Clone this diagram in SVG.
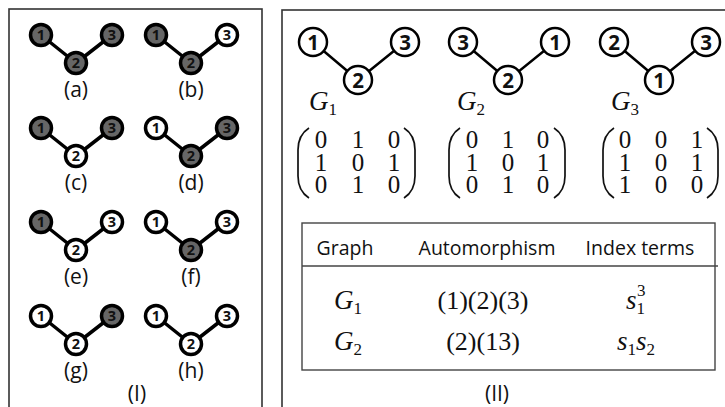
<svg xmlns="http://www.w3.org/2000/svg" width="725" height="407" viewBox="0 0 725 407">
<style>
.panel{fill:#fff;stroke:#333;stroke-width:1.6}
.e1{stroke:#000;stroke-width:3.5;stroke-linecap:round}
.e2{stroke:#000;stroke-width:2.5;stroke-linecap:round}
.ng{fill:#666;stroke:#000;stroke-width:3.5}
.nw{fill:#fff;stroke:#000;stroke-width:3.5}
.nb{fill:#fff;stroke:#000;stroke-width:2.5}
.t1{font-family:"Open Sans","Liberation Sans",sans-serif;font-weight:bold;font-size:14.5px;text-anchor:middle;fill:#111}
.t2{font-family:"Open Sans","Liberation Sans",sans-serif;font-weight:bold;font-size:20.5px;text-anchor:middle;fill:#111}
.lab{font-family:"Open Sans","Liberation Sans",sans-serif;font-size:21px;text-anchor:middle;fill:#111}
.m{font-family:"Liberation Serif","DejaVu Serif",serif;font-size:25px;text-anchor:middle;fill:#111}
.mi{font-family:"Liberation Serif","DejaVu Serif",serif;font-style:italic;font-size:27px;fill:#111}
.sub{font-size:17px;font-style:normal}
.par{fill:none;stroke:#111;stroke-width:1.7}
.hd{font-family:"Open Sans","Liberation Sans",sans-serif;font-size:19.5px;text-anchor:middle;fill:#111}
.tb{font-family:"Liberation Serif","DejaVu Serif",serif;font-size:26px;text-anchor:middle;fill:#111}
</style>
<rect class="panel" x="9" y="9" width="253" height="420"/>
<rect class="panel" x="282" y="10" width="460" height="420"/>

<!-- Panel I -->
<g id="graph-a">
 <g id="edges-a"><line class="e1" x1="41" y1="35" x2="76" y2="63"/><line class="e1" x1="76" y1="63" x2="112" y2="35"/></g>
 <g id="a-n1"><circle class="ng" cx="41" cy="35" r="10.5"/><text class="t1" x="41" y="40">1</text></g>
 <g id="a-n2"><circle class="ng" cx="76" cy="63" r="10.5"/><text class="t1" x="76" y="68">2</text></g>
 <g id="a-n3"><circle class="ng" cx="112" cy="35" r="10.5"/><text class="t1" x="112" y="40">3</text></g>
 <text class="lab" x="76" y="97">(a)</text>
</g>
<g id="graph-b">
 <g id="edges-b"><line class="e1" x1="156" y1="35" x2="191" y2="63"/><line class="e1" x1="191" y1="63" x2="227" y2="35"/></g>
 <g id="b-n1"><circle class="ng" cx="156" cy="35" r="10.5"/><text class="t1" x="156" y="40">1</text></g>
 <g id="b-n2"><circle class="ng" cx="191" cy="63" r="10.5"/><text class="t1" x="191" y="68">2</text></g>
 <g id="b-n3"><circle class="nw" cx="227" cy="35" r="10.5"/><text class="t1" x="227" y="40">3</text></g>
 <text class="lab" x="191" y="97">(b)</text>
</g>
<g id="graph-c">
 <g id="edges-c"><line class="e1" x1="41" y1="128" x2="76" y2="156"/><line class="e1" x1="76" y1="156" x2="112" y2="128"/></g>
 <g id="c-n1"><circle class="ng" cx="41" cy="128" r="10.5"/><text class="t1" x="41" y="133">1</text></g>
 <g id="c-n2"><circle class="nw" cx="76" cy="156" r="10.5"/><text class="t1" x="76" y="161">2</text></g>
 <g id="c-n3"><circle class="ng" cx="112" cy="128" r="10.5"/><text class="t1" x="112" y="133">3</text></g>
 <text class="lab" x="76" y="190">(c)</text>
</g>
<g id="graph-d">
 <g id="edges-d"><line class="e1" x1="156" y1="128" x2="191" y2="156"/><line class="e1" x1="191" y1="156" x2="227" y2="128"/></g>
 <g id="d-n1"><circle class="nw" cx="156" cy="128" r="10.5"/><text class="t1" x="156" y="133">1</text></g>
 <g id="d-n2"><circle class="ng" cx="191" cy="156" r="10.5"/><text class="t1" x="191" y="161">2</text></g>
 <g id="d-n3"><circle class="ng" cx="227" cy="128" r="10.5"/><text class="t1" x="227" y="133">3</text></g>
 <text class="lab" x="191" y="190">(d)</text>
</g>
<g id="graph-e">
 <g id="edges-e"><line class="e1" x1="41" y1="222" x2="76" y2="250"/><line class="e1" x1="76" y1="250" x2="112" y2="222"/></g>
 <g id="e-n1"><circle class="ng" cx="41" cy="222" r="10.5"/><text class="t1" x="41" y="227">1</text></g>
 <g id="e-n2"><circle class="nw" cx="76" cy="250" r="10.5"/><text class="t1" x="76" y="255">2</text></g>
 <g id="e-n3"><circle class="nw" cx="112" cy="222" r="10.5"/><text class="t1" x="112" y="227">3</text></g>
 <text class="lab" x="76" y="284">(e)</text>
</g>
<g id="graph-f">
 <g id="edges-f"><line class="e1" x1="156" y1="222" x2="191" y2="250"/><line class="e1" x1="191" y1="250" x2="227" y2="222"/></g>
 <g id="f-n1"><circle class="nw" cx="156" cy="222" r="10.5"/><text class="t1" x="156" y="227">1</text></g>
 <g id="f-n2"><circle class="ng" cx="191" cy="250" r="10.5"/><text class="t1" x="191" y="255">2</text></g>
 <g id="f-n3"><circle class="nw" cx="227" cy="222" r="10.5"/><text class="t1" x="227" y="227">3</text></g>
 <text class="lab" x="191" y="284">(f)</text>
</g>
<g id="graph-g">
 <g id="edges-g"><line class="e1" x1="41" y1="316" x2="76" y2="344"/><line class="e1" x1="76" y1="344" x2="112" y2="316"/></g>
 <g id="g-n1"><circle class="nw" cx="41" cy="316" r="10.5"/><text class="t1" x="41" y="321">1</text></g>
 <g id="g-n2"><circle class="nw" cx="76" cy="344" r="10.5"/><text class="t1" x="76" y="349">2</text></g>
 <g id="g-n3"><circle class="ng" cx="112" cy="316" r="10.5"/><text class="t1" x="112" y="321">3</text></g>
 <text class="lab" x="76" y="378">(g)</text>
</g>
<g id="graph-h">
 <g id="edges-h"><line class="e1" x1="156" y1="316" x2="191" y2="344"/><line class="e1" x1="191" y1="344" x2="227" y2="316"/></g>
 <g id="h-n1"><circle class="nw" cx="156" cy="316" r="10.5"/><text class="t1" x="156" y="321">1</text></g>
 <g id="h-n2"><circle class="nw" cx="191" cy="344" r="10.5"/><text class="t1" x="191" y="349">2</text></g>
 <g id="h-n3"><circle class="nw" cx="227" cy="316" r="10.5"/><text class="t1" x="227" y="321">3</text></g>
 <text class="lab" x="191" y="378">(h)</text>
</g>
<text class="lab" x="137" y="401">(I)</text>

<!-- Panel II graphs -->
<g id="G1">
 <g id="edges-G1"><line class="e2" x1="313" y1="42" x2="358" y2="80"/><line class="e2" x1="358" y1="80" x2="405" y2="42"/></g>
 <g id="G1-n1"><circle class="nb" cx="313" cy="42" r="14"/><text class="t2" x="313" y="49.5">1</text></g>
 <g id="G1-n2"><circle class="nb" cx="358" cy="80" r="14"/><text class="t2" x="358" y="87.5">2</text></g>
 <g id="G1-n3"><circle class="nb" cx="405" cy="42" r="14"/><text class="t2" x="405" y="49.5">3</text></g>
</g>
<g id="G2">
 <g id="edges-G2"><line class="e2" x1="463" y1="42" x2="508" y2="80"/><line class="e2" x1="508" y1="80" x2="555" y2="42"/></g>
 <g id="G2-n3"><circle class="nb" cx="463" cy="42" r="14"/><text class="t2" x="463" y="49.5">3</text></g>
 <g id="G2-n2"><circle class="nb" cx="508" cy="80" r="14"/><text class="t2" x="508" y="87.5">2</text></g>
 <g id="G2-n1"><circle class="nb" cx="555" cy="42" r="14"/><text class="t2" x="555" y="49.5">1</text></g>
</g>
<g id="G3">
 <g id="edges-G3"><line class="e2" x1="614" y1="42" x2="659" y2="80"/><line class="e2" x1="659" y1="80" x2="706" y2="42"/></g>
 <g id="G3-n2"><circle class="nb" cx="614" cy="42" r="14"/><text class="t2" x="614" y="49.5">2</text></g>
 <g id="G3-n1"><circle class="nb" cx="659" cy="80" r="14"/><text class="t2" x="659" y="87.5">1</text></g>
 <g id="G3-n3"><circle class="nb" cx="706" cy="42" r="14"/><text class="t2" x="706" y="49.5">3</text></g>
</g>

<text class="mi" x="309" y="110">G<tspan class="sub" dy="5">1</tspan></text>
<text class="mi" x="457" y="110">G<tspan class="sub" dy="5">2</tspan></text>
<text class="mi" x="611" y="110">G<tspan class="sub" dy="5">3</tspan></text>

<!-- matrices -->
<g id="M1">
 <path class="par" d="M309 128 Q298 135 298 150 L298 176 Q298 191 309 198"/>
 <path class="par" d="M404 128 Q415 135 415 150 L415 176 Q415 191 404 198"/>
 <text class="m"><tspan x="321" y="148">0</tspan><tspan x="358" y="148">1</tspan><tspan x="394" y="148">0</tspan><tspan x="321" y="171">1</tspan><tspan x="358" y="171">0</tspan><tspan x="394" y="171">1</tspan><tspan x="321" y="193">0</tspan><tspan x="358" y="193">1</tspan><tspan x="394" y="193">0</tspan></text>
</g>
<g id="M2">
 <path class="par" d="M460 128 Q449 135 449 150 L449 176 Q449 191 460 198"/>
 <path class="par" d="M554 128 Q565 135 565 150 L565 176 Q565 191 554 198"/>
 <text class="m"><tspan x="472" y="148">0</tspan><tspan x="508" y="148">1</tspan><tspan x="543" y="148">0</tspan><tspan x="472" y="171">1</tspan><tspan x="508" y="171">0</tspan><tspan x="543" y="171">1</tspan><tspan x="472" y="193">0</tspan><tspan x="508" y="193">1</tspan><tspan x="543" y="193">0</tspan></text>
</g>
<g id="M3">
 <path class="par" d="M614 128 Q603 135 603 150 L603 176 Q603 191 614 198"/>
 <path class="par" d="M707 128 Q718 135 718 150 L718 176 Q718 191 707 198"/>
 <text class="m"><tspan x="625" y="148">0</tspan><tspan x="661" y="148">0</tspan><tspan x="697" y="148">1</tspan><tspan x="625" y="171">1</tspan><tspan x="661" y="171">0</tspan><tspan x="697" y="171">1</tspan><tspan x="625" y="193">1</tspan><tspan x="661" y="193">0</tspan><tspan x="697" y="193">0</tspan></text>
</g>

<!-- table -->
<g id="table">
 <rect x="302" y="223" width="413" height="147" fill="none" stroke="#444" stroke-width="1.4"/>
 <line x1="302" y1="266" x2="718" y2="266" stroke="#444" stroke-width="1.4"/>
 <text class="hd" x="345" y="255">Graph</text>
 <text class="hd" x="487" y="255">Automorphism</text>
 <text class="hd" x="640" y="255">Index terms</text>
 <text class="mi" x="334" y="309">G<tspan class="sub" dy="5">1</tspan></text>
 <text class="tb" x="483" y="309">(1)(2)(3)</text>
 <text class="mi" x="626" y="309">s<tspan class="sub" dy="5">1</tspan><tspan class="sub" dx="-8" dy="-18">3</tspan></text>
 <text class="mi" x="334" y="350">G<tspan class="sub" dy="5">2</tspan></text>
 <text class="tb" x="483" y="350">(2)(13)</text>
 <text class="mi" x="617" y="350">s<tspan class="sub" dy="5">1</tspan><tspan dy="-5">s</tspan><tspan class="sub" dy="5">2</tspan></text>
</g>
<text class="lab" x="497" y="401">(II)</text>
</svg>
